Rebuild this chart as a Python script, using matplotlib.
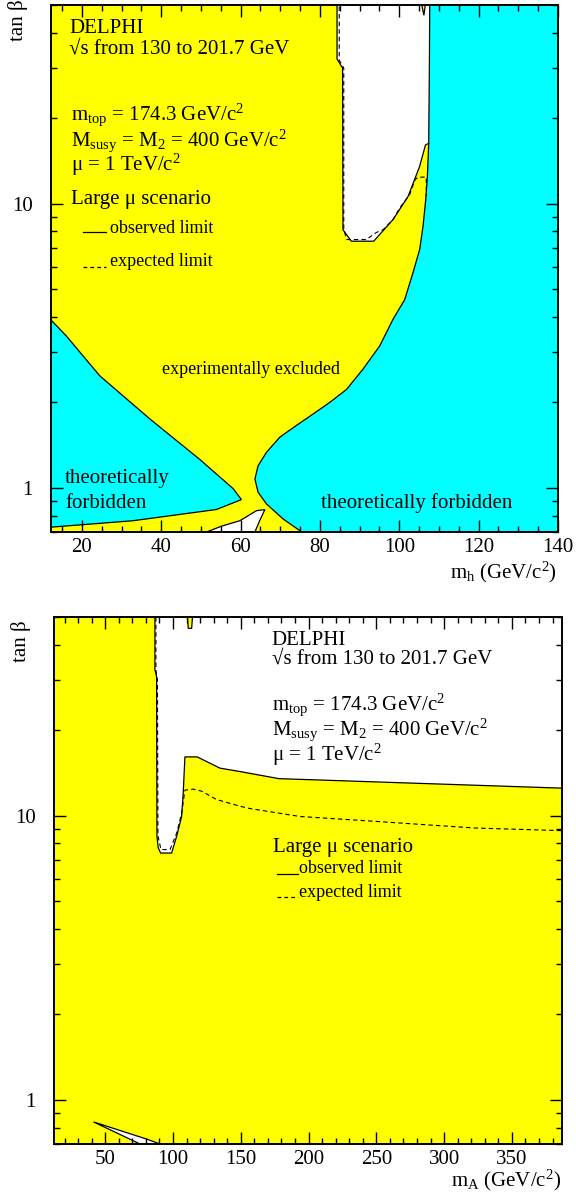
import matplotlib
matplotlib.use("Agg")
import matplotlib.pyplot as plt
from matplotlib.ticker import LogLocator, MultipleLocator, NullFormatter, FixedLocator

plt.rcParams['font.family'] = ['Liberation Serif', 'DejaVu Serif']
plt.rcParams['mathtext.fontset'] = 'custom'
plt.rcParams['mathtext.rm'] = 'Liberation Serif'
plt.rcParams['mathtext.it'] = 'Liberation Serif:italic'

YELLOW = '#ffff00'
CYAN = '#00ffff'

# ---- top panel: (m_h, tan beta) ----
mh_xlim = (12.2, 140)
tb_ylim = (0.7, 50)
mh_major = [20, 40, 60, 80, 100, 120, 140]
mh_labels = ['20', '40', '60', '80', '100', '120', '140']
tb_major = [1, 10]
tb_labels = ['1', '10']

# left theoretically forbidden region (upper edge, then lower edge back)
left_forb_x = [10.0, 12.2, 16.1, 24.5, 37.1, 49.7, 58.1, 60.2, 53.9, 32.9, 12.2, 10.0]
left_forb_y = [4.1, 3.90, 3.42, 2.48, 1.75, 1.26, 0.995, 0.91, 0.84, 0.767, 0.728, 0.725]

# right theoretically forbidden region boundary (top to bottom)
right_forb_x = [107.7, 107.66, 107.58, 107.41, 107.08, 106.65, 105.97, 105.14, 103.45,
                101.36, 98.41, 95.06, 90.86, 86.68, 82.47, 78.26, 74.08, 69.9, 66.5,
                64.4, 63.6, 64.4, 66.5, 70.7, 74.9, 75.5]
right_forb_y = [60, 49.9, 30.3, 16.3, 12.5, 10.3, 8.32, 6.91, 5.72,
                4.60, 3.92, 3.16, 2.62, 2.22, 2.00, 1.82, 1.66, 1.51, 1.334,
                1.197, 1.075, 0.966, 0.879, 0.778, 0.708, 0.69]
right_forb_close_x = [150, 150]
right_forb_close_y = [0.69, 60]

# allowed (white) region, observed limit
obs_h_x = [84.3, 84.3, 85.7, 85.8, 87.9, 93.55, 98.4, 102.2, 105.1, 106.6, 107.41]
obs_h_y = [60, 32.3, 30.0, 8.1, 7.38, 7.38, 8.79, 10.6, 13.5, 16.1, 16.3]
obs_h_close_x = [109, 109]
obs_h_close_y = [16.3, 60]

# expected limit
exp_h_x = [84.85, 84.85, 86.0, 86.0, 86.75, 91.7, 94.2, 95.9, 98.4, 100.1, 102.6,
           103.9, 104.7, 106.8, 106.8]
exp_h_y = [60, 32, 30, 8.1, 7.48, 7.48, 7.92, 8.1, 8.79, 9.66, 10.75,
           12.1, 12.4, 12.4, 10.6]

# small excluded notch at top of allowed region
notch_h_x = [104.9, 106.2, 107.0]
notch_h_y = [56, 46, 56]

# small allowed island at low tan beta
island_h_x = [51.4, 55.2, 59.8, 64.0, 66.1, 64.8, 63.6]
island_h_y = [0.70, 0.734, 0.767, 0.832, 0.839, 0.767, 0.70]

# ---- bottom panel: (m_A, tan beta) ----
ma_xlim = (12.2, 387)
ma_major = [50, 100, 150, 200, 250, 300, 350]
ma_labels = ['50', '100', '150', '200', '250', '300', '350']

obs_a_x = [86.66, 86.66, 87.91, 88.14, 89.1, 90.86, 98.98, 102.67, 106.35, 107.53,
           108.79, 117.86, 134.6, 149.4, 178.1, 386.9, 400]
obs_a_y = [60, 32.6, 30.8, 8.46, 7.71, 7.39, 7.39, 8.46, 9.94, 12.0,
           16.1, 16.1, 14.7, 14.3, 13.5, 12.5, 12.45]
obs_a_close_x = [400]
obs_a_close_y = [60]

exp_a_x = [87.4, 87.4, 88.5, 88.9, 91.1, 97.8, 102.7, 106.4, 108.8, 114.9, 121.1,
           132.1, 149.3, 156.6, 193.4, 249.3, 322.8, 386.9, 400]
exp_a_y = [60, 32.6, 30, 8.5, 7.6, 7.6, 8.69, 10.2, 12.3, 12.4, 12.2,
           11.4, 10.8, 10.6, 9.94, 9.55, 9.05, 8.86, 8.84]

notch_a_x = [110.0, 111.25, 113.75, 115.0]
notch_a_y = [55, 45.6, 45.6, 55]

sliver_a_x = [41.4, 80.7, 90.4, 75.7]
sliver_a_y = [0.837, 0.728, 0.70, 0.70]


def style_axes(ax, xlim, xmajor, xlabels, xminor):
    ax.set_yscale('log')
    ax.set_xlim(*xlim)
    ax.set_ylim(*tb_ylim)
    ax.set_facecolor(YELLOW)
    ax.xaxis.set_major_locator(FixedLocator(xmajor))
    ax.set_xticklabels(xlabels)
    ax.xaxis.set_minor_locator(MultipleLocator(xminor))
    ax.yaxis.set_major_locator(FixedLocator(tb_major))
    ax.set_yticklabels(tb_labels)
    ax.yaxis.set_minor_locator(LogLocator(subs=range(2, 10)))
    ax.yaxis.set_minor_formatter(NullFormatter())
    ax.tick_params(which='both', direction='in', top=True, right=True, labelsize=15,
                   width=1.0, color='black')
    ax.tick_params(which='major', length=8.5)
    ax.tick_params(which='minor', length=4.3)
    ax.tick_params(axis='x', which='major', pad=4)
    ax.tick_params(axis='y', which='major', pad=13)
    for sp in ax.spines.values():
        sp.set_linewidth(1.4)


fig = plt.figure(figsize=(5.76, 11.98), dpi=100)

# ---------------- top panel ----------------
ax1 = fig.add_axes([51 / 576, 1 - 532 / 1198, 507 / 576, 527 / 1198])
style_axes(ax1, mh_xlim, mh_major, mh_labels, 5)

ax1.fill(obs_h_x + obs_h_close_x, obs_h_y + obs_h_close_y, color='white', lw=0, zorder=1)
ax1.fill(right_forb_x + right_forb_close_x, right_forb_y + right_forb_close_y,
         color=CYAN, lw=0, zorder=1.1)
ax1.plot(right_forb_x, right_forb_y, color='black', lw=0.9, zorder=2)
ax1.fill(left_forb_x, left_forb_y, facecolor=CYAN, edgecolor='black', lw=0.9, zorder=1.1)
ax1.fill(notch_h_x, notch_h_y, facecolor=YELLOW, edgecolor='black', lw=0.9, zorder=1.2)
ax1.fill(island_h_x, island_h_y, facecolor='white', edgecolor='black', lw=0.9, zorder=1.2)
ax1.plot(obs_h_x, obs_h_y, color='black', lw=0.9, zorder=2)
ax1.plot(exp_h_x, exp_h_y, color='black', lw=0.8, dashes=(4, 2.8), zorder=2)

t = ax1.transAxes
ax1.text(0.0355, 0.946, 'DELPHI', fontsize=15, transform=t)
ax1.text(0.0355, 0.908, '√s from 130 to 201.7 GeV', fontsize=15, transform=t)
ax1.text(0.0389, 0.783, r'm$_{\rm top}$ = 174.3 GeV/c$^{2}$', fontsize=15, transform=t)
ax1.text(0.0389, 0.733, r'M$_{\rm susy}$ = M$_{2}$ = 400 GeV/c$^{2}$', fontsize=15, transform=t)
ax1.text(0.0389, 0.686, r'μ = 1 TeV/c$^{2}$', fontsize=15, transform=t)
ax1.text(0.0389, 0.622, 'Large μ scenario', fontsize=15, transform=t)
ax1.plot([0.0637, 0.1085], [0.570, 0.570], color='black', lw=0.9, transform=t)
ax1.text(0.1164, 0.568, 'observed limit', fontsize=13, transform=t)
ax1.plot([0.0637, 0.1085], [0.503, 0.503], color='black', lw=0.9, dashes=(3, 2.5), transform=t)
ax1.text(0.1164, 0.505, 'expected limit', fontsize=13, transform=t)
ax1.text(0.218, 0.300, 'experimentally excluded', fontsize=13, transform=t)
ax1.text(0.0276, 0.0924, 'theoretically', fontsize=15, transform=t)
ax1.text(0.0276, 0.045, 'forbidden', fontsize=15, transform=t)
ax1.text(0.532, 0.045, 'theoretically forbidden', fontsize=15, transform=t)
ax1.text(0.998, -0.088, r'm$_{\rm h}$ (GeV/c$^{2}$)', fontsize=15, ha='right', transform=t)
ax1.text(-0.0657, 1.01, 'tan β', fontsize=15, rotation=90, ha='center', va='top', transform=t)

# ---------------- bottom panel ----------------
ax2 = fig.add_axes([54 / 576, 1 - 1144 / 1198, 508 / 576, 527 / 1198])
style_axes(ax2, ma_xlim, ma_major, ma_labels, 10)

ax2.fill(obs_a_x + obs_a_close_x, obs_a_y + obs_a_close_y, color='white', lw=0, zorder=1)
ax2.plot(obs_a_x, obs_a_y, color='black', lw=0.9, zorder=2)
ax2.plot(exp_a_x, exp_a_y, color='black', lw=0.8, dashes=(4, 2.8), zorder=2)
ax2.fill(notch_a_x, notch_a_y, facecolor=YELLOW, edgecolor='black', lw=0.9, zorder=1.2)
ax2.fill(sliver_a_x, sliver_a_y, facecolor='white', edgecolor='black', lw=0.9, zorder=1.2)

t = ax2.transAxes
ax2.text(0.4285, 0.947, 'DELPHI', fontsize=15, transform=t)
ax2.text(0.4285, 0.911, '√s from 130 to 201.7 GeV', fontsize=15, transform=t)
ax2.text(0.430, 0.824, r'm$_{\rm top}$ = 174.3 GeV/c$^{2}$', fontsize=15, transform=t)
ax2.text(0.430, 0.777, r'M$_{\rm susy}$ = M$_{2}$ = 400 GeV/c$^{2}$', fontsize=15, transform=t)
ax2.text(0.430, 0.727, r'μ = 1 TeV/c$^{2}$', fontsize=15, transform=t)
ax2.text(0.4317, 0.555, 'Large μ scenario', fontsize=15, transform=t)
ax2.plot([0.439, 0.480], [0.513, 0.513], color='black', lw=0.9, transform=t)
ax2.text(0.483, 0.514, 'observed limit', fontsize=13, transform=t)
ax2.plot([0.439, 0.480], [0.469, 0.469], color='black', lw=0.9, dashes=(3, 2.5), transform=t)
ax2.text(0.483, 0.469, 'expected limit', fontsize=13, transform=t)
ax2.text(0.998, -0.081, r'm$_{\rm A}$ (GeV/c$^{2}$)', fontsize=15, ha='right', transform=t)
ax2.text(-0.065, 0.994, 'tan β', fontsize=15, rotation=90, ha='center', va='top', transform=t)

fig.savefig('out.png', dpi=100)
